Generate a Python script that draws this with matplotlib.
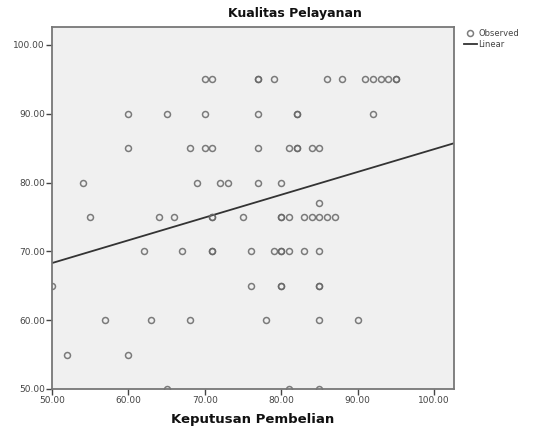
import numpy as np
import matplotlib
matplotlib.use('Agg')
import matplotlib.pyplot as plt
from matplotlib.ticker import FormatStrFormatter

# Observed values (Keputusan Pembelian, Kualitas Pelayanan), read row by row
x_obs = [70, 71, 77, 77, 79, 86, 88, 91, 92, 93, 94, 95, 95,
         60, 65, 70, 77, 82, 82, 92,
         60, 68, 70, 71, 77, 81, 82, 82, 84, 85,
         54, 69, 72, 73, 77, 80,
         85,
         55, 64, 66, 71, 71, 75, 80, 80, 81, 83, 84, 85, 86, 87,
         62, 67, 71, 71, 76, 79, 80, 80, 81, 83, 85,
         50, 76, 80, 80, 85, 85,
         57, 63, 68, 78, 85, 90,
         52, 60,
         65, 81, 85]
y_obs = [95]*13 + [90]*7 + [85]*10 + [80]*6 + [77] + [75]*14 + [70]*11 + \
        [65]*6 + [60]*6 + [55]*2 + [50]*3

# Linear fit line
fit_intercept = 51.75
fit_slope = 0.331

xticks = [50, 60, 70, 80, 90, 100]
yticks = [50, 60, 70, 80, 90, 100]

fig = plt.figure(figsize=(5.4, 4.29), dpi=100)
ax = fig.add_axes([52/540, 1-389/429, 402/540, 362/429])
ax.set_facecolor('#f0f0f0')

xl = np.array([50, 102.6])
ax.plot(xl, fit_intercept + fit_slope*xl, '-', color='#333333', lw=1.3, label='Linear')
ax.plot(x_obs, y_obs, 'o', mfc='none', mec='#666666', mew=1.1, ms=4.3, alpha=0.85,
        label='Observed')

ax.set_xlim(50, 102.6)
ax.set_ylim(50, 102.6)
ax.set_xticks(xticks)
ax.set_yticks(yticks)
ax.xaxis.set_major_formatter(FormatStrFormatter('%.2f'))
ax.yaxis.set_major_formatter(FormatStrFormatter('%.2f'))
ax.tick_params(labelsize=6.5, colors='#444444', length=4, width=1, direction='out', pad=1)
for s in ax.spines.values():
    s.set_color('#777777')
    s.set_linewidth(1.3)

fig.text(295/540, 1-14/429, 'Kualitas Pelayanan', ha='center', va='center',
         fontsize=9, fontweight='bold', color='#111111')
fig.text(253/540, 1-420/429, 'Keputusan Pembelian', ha='center', va='center',
         fontsize=9.5, fontweight='bold', color='#111111')

# legend drawn outside the axes
h, l = ax.get_legend_handles_labels()
fig.legend(h[::-1], l[::-1], loc='upper left', bbox_to_anchor=(460/540, 1-25/429),
           frameon=False, fontsize=6, handlelength=1.5, handletextpad=0.2,
           labelspacing=0.2, borderpad=0, labelcolor='#444444')

plt.savefig('out.png', dpi=100)
